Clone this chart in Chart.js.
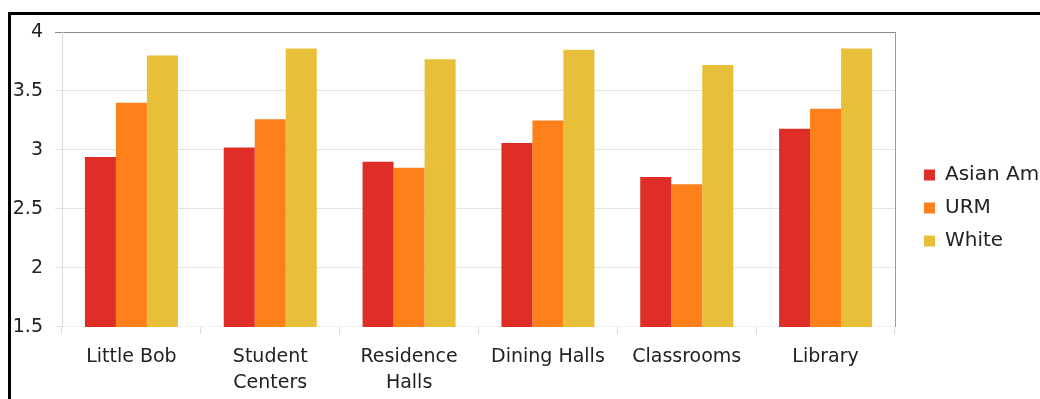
<!DOCTYPE html>
<html>
<head>
<meta charset="utf-8">
<script src="https://cdn.jsdelivr.net/npm/chart.js@4.4.1/dist/chart.umd.min.js"></script>
<style>
  html, body { margin: 0; padding: 0; background: #fff; overflow: hidden; }
  #frame {
    position: absolute; left: 8px; top: 12px;
    width: 1100px; height: 420px;
    border: 3px solid #000; box-sizing: border-box; overflow: hidden;
  }
  #wrap { position: absolute; left: 0; top: 0; width: 1050px; height: 394px; }
</style>
</head>
<body>
<div id="frame"><div id="wrap"><canvas id="chart"></canvas></div></div>
<script>
// campus locations
const categories = [["Little Bob"], ["Student", "Centers"], ["Residence", "Halls"], ["Dining Halls"], ["Classrooms"], ["Library"]];
const seriesNames = ["Asian American", "URM", "White"];
const asianAm = [2.94, 3.02, 2.90, 3.06, 2.77, 3.18];
const urm = [3.40, 3.26, 2.85, 3.25, 2.71, 3.35];
const white = [3.80, 3.86, 3.77, 3.85, 3.72, 3.86];
const yTicks = [1.5, 2, 2.5, 3, 3.5, 4];

const colors = ["#de2e27", "#fd801b", "#e8bf38"];
const FONT = "'DejaVu Sans', sans-serif";

// nudge the legend block up a little so it sits where the original one is
const legendNudge = {
    id: "legendNudge",
    afterLayout(chart) {
        if (chart.legend) chart.legend.bottom -= 22;
    },
};

const ctx = document.getElementById("chart").getContext("2d");

new Chart(ctx, {
    type: "bar",
    data: {
        labels: categories,
        datasets: [asianAm, urm, white].map((vals, i) => ({
            label: seriesNames[i],
            data: vals,
            backgroundColor: colors[i],
            borderWidth: 0,
            categoryPercentage: 0.67,
            barPercentage: 1.0,
        })),
    },
    plugins: [legendNudge],
    options: {
        responsive: true,
        maintainAspectRatio: false,
        animation: false,
        layout: { padding: { left: 2, top: 17, bottom: 3, right: 0 } },
        plugins: {
            tooltip: { enabled: false },
            legend: {
                position: "right",
                maxWidth: 150,
                labels: {
                    boxWidth: 11,
                    boxHeight: 11,
                    padding: 13,
                    color: "#222",
                    font: { family: FONT, size: 20 },
                },
            },
        },
        scales: {
            x: {
                grid: {
                    drawOnChartArea: false,
                    drawTicks: true,
                    tickLength: 7,
                    color: "#dcdcdc",
                },
                border: { color: "#f2f2f2" },
                ticks: {
                    color: "#222",
                    padding: 10,
                    maxRotation: 0,
                    font: { family: FONT, size: 19, lineHeight: 1.37 },
                },
                afterFit: (s) => { s.paddingLeft = 0; s.paddingRight = 0; },
            },
            y: {
                min: 1.5,
                max: 4,
                afterBuildTicks: (s) => { s.ticks = yTicks.map(v => ({ value: v })); },
                grid: {
                    color: (c) => (c.tick && c.tick.value === 4 ? "#8a8a8a" : "#e3e3e3"),
                    tickLength: 7,
                },
                border: { color: "#d9d9d9" },
                ticks: {
                    color: "#222",
                    padding: 12,
                    font: { family: FONT, size: 19 },
                    callback: (v) => String(v),
                },
                afterFit: (s) => { s.width = 49; s.paddingTop = 0; s.paddingBottom = 0; },
            },
            yRight: {
                position: "right",
                min: 1.5,
                max: 4,
                grid: { display: false },
                ticks: { display: false },
                border: { color: "#9a9a9a" },
                afterFit: (s) => { s.width = 16; s.paddingTop = 0; s.paddingBottom = 0; },
            },
        },
    },
});
</script>
</body>
</html>
